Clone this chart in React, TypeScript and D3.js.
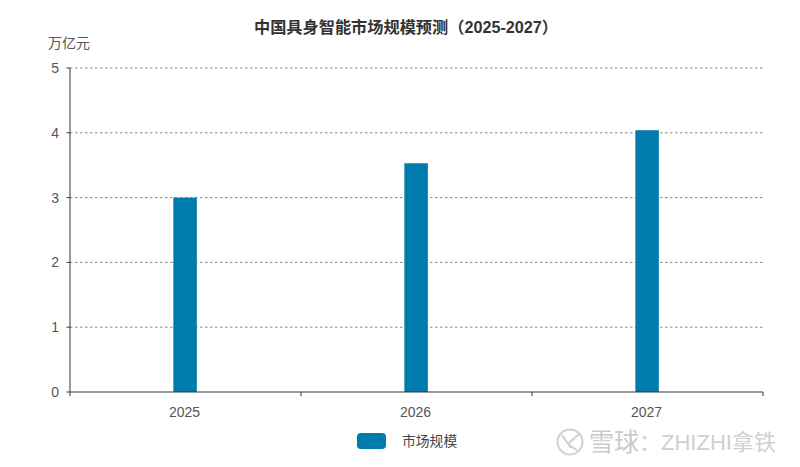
import React from "react";
import * as d3 from "d3";

const years = ["2025", "2026", "2027"];
const marketSize = [3.0, 3.53, 4.04];
const yTicks = [0, 1, 2, 3, 4, 5];
const title = "中国具身智能市场规模预测（2025-2027）";
const unit = "万亿元";
const seriesName = "市场规模";
const watermarkHead = "雪球";
const watermarkTail = "：ZHIZHI拿铁";

const W = 800, H = 467;
const L = 70, R = 763, T = 68, B = 392;
const BAR = 23.5;
const BLUE = "#007CAC";
const FONT = "'Helvetica Neue', Liberation Sans, 'Noto Sans CJK SC', sans-serif";

export default function App() {
  const x = d3.scaleBand<string>().domain(years).range([L, R]);
  const y = d3.scaleLinear().domain([0, 5]).range([B, T]);
  const edges = [L, ...years.map((c) => (x(c) as number) + x.bandwidth())];
  const cx = (c: string) => (x(c) as number) + x.bandwidth() / 2;
  return (
    <svg width={W} height={H} viewBox={`0 0 ${W} ${H}`}
      style={{ position: "absolute", left: 0, top: 0, background: "#fff" }} fontFamily={FONT}>
      <text x={406} y={32.5} textAnchor="middle" fontSize={16.2} fontWeight={700} fill="#333">{title}</text>
      <text x={69} y={48} textAnchor="middle" fontSize={14} fill="#555">{unit}</text>

      {yTicks.filter((t) => t > 0).map((t) => (
        <line key={t} x1={L} x2={R} y1={y(t)} y2={y(t)} stroke="#888" strokeWidth={1} strokeDasharray="2.5 2.5" />
      ))}
      {years.map((c, i) => (
        <rect key={c} x={cx(c) - BAR / 2 - 0.4} y={y(marketSize[i])}
          width={BAR} height={B - y(marketSize[i])} fill={BLUE} />
      ))}

      <line x1={L} x2={L} y1={T} y2={B} stroke="#333344" strokeWidth={1} />
      <line x1={L} x2={R} y1={B} y2={B} stroke="#333344" strokeWidth={1} />
      {yTicks.map((t) => (
        <g key={t}>
          <line x1={L - 3.5} x2={L} y1={y(t)} y2={y(t)} stroke="#333344" />
          <text x={59} y={y(t) + 5} textAnchor="end" fontSize={14} fill="#555">{t}</text>
        </g>
      ))}
      {edges.map((e, i) => (
        <line key={i} x1={e} x2={e} y1={B} y2={B + 4} stroke="#333344" />
      ))}
      {years.map((c) => (
        <text key={c} x={cx(c) - 1} y={417} textAnchor="middle" fontSize={14} fill="#555">{c}</text>
      ))}

      <rect x={357} y={433} width={29} height={16} rx={4} fill={BLUE} />
      <text x={402} y={446} fontSize={13.8} fill="#444">{seriesName}</text>

      <g fill="none" stroke="#d0d0d0" strokeWidth={2}>
        <circle cx={570} cy={442} r={12.5} />
        <path d="M562 435 L571 448 M579 434 L568 444 L578 451" />
      </g>
      <text x={589} y={451} fontSize={25} fill="#cacaca">{watermarkHead}</text>
      <text x={639} y={450} fontSize={22} fill="#cfcfcf">{watermarkTail}</text>
    </svg>
  );
}
